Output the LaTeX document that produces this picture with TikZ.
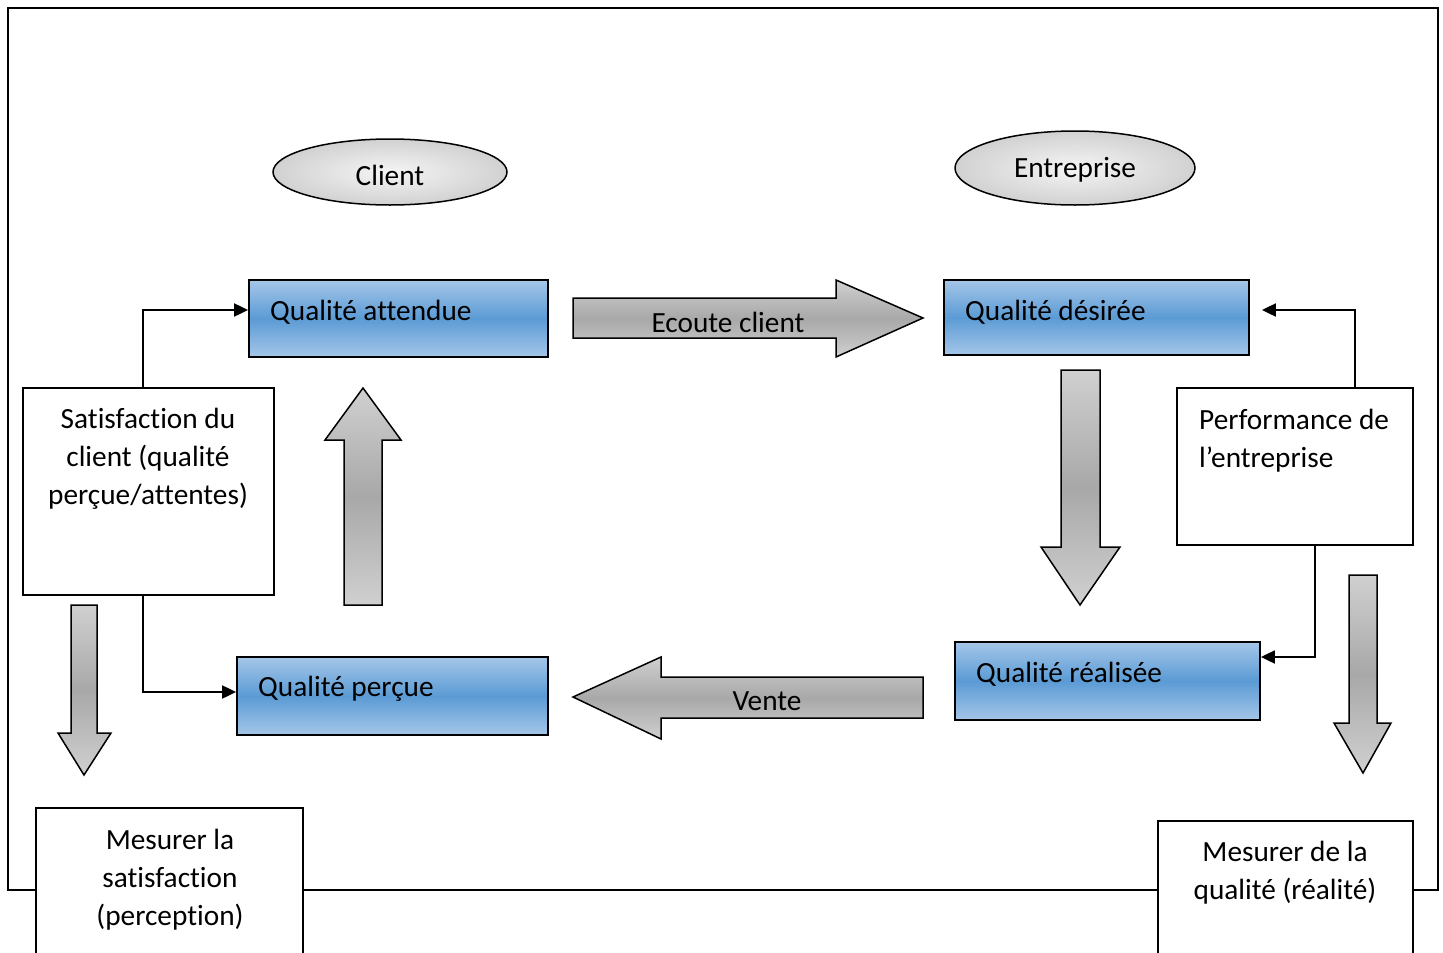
\documentclass[tikz,border=0pt]{standalone}
\usepackage{fontspec}
\setmainfont{Carlito}[Ligatures=CommonOff]
\usetikzlibrary{arrows.meta,shapes.geometric,calc}
\definecolor{bluelt}{HTML}{A5C6E8}
\definecolor{bluemid}{HTML}{5B9BD5}
\definecolor{greylt}{HTML}{D0D0D0}
\definecolor{greymid}{HTML}{A8A8A8}
\tikzset{
  qbox/.style={rectangle, draw=black, line width=1.8pt, inner sep=0pt,
    top color=bluelt, bottom color=bluelt, middle color=bluemid},
  wbox/.style={rectangle, draw=black, fill=white, line width=2pt, inner sep=0pt},
  oval/.style={ellipse, draw=black, line width=1.5pt, inner sep=0pt,
    inner color=white!96!black, outer color=white!82!black},
  bigarrow/.style={draw=black, line width=1.5pt, line join=miter,
    top color=greylt, bottom color=greylt, middle color=greymid},
  conn/.style={line width=2pt, -{Triangle[length=14pt,width=13pt]}},
  txt/.style={font=\fontsize{29.3}{38}\selectfont, inner sep=0pt},
}
\begin{document}
\begin{tikzpicture}[x=1pt,y=-1pt]
  \clip (0,0) rectangle (1443,953);
  \fill[white] (0,0) rectangle (1443,953);

  % outer frame
  \draw[line width=2pt] (8,8) rectangle (1438,890);

  % client / company ovals
  \node[oval, txt, text height=26pt, text depth=0pt,
        minimum width=234pt, minimum height=66pt] (client) at (390,172) {Client};
  \node[oval, txt, text height=24pt, text depth=6pt,
        minimum width=240pt, minimum height=74pt] (entreprise) at (1075,168) {Entreprise};

  % quality boxes
  \node[qbox, minimum width=299pt, minimum height=77pt] (qatt) at (398.5,318.5) {};
  \node[txt, anchor=base west] (qattT) at (270,320) {Qualité attendue};
  \node[qbox, minimum width=305pt, minimum height=75pt] (qdes) at (1096.5,317.5) {};
  \node[txt, anchor=base west] (qdesT) at (965,320) {Qualité désirée};
  \node[qbox, minimum width=305pt, minimum height=78pt] (qrea) at (1107.5,681) {};
  \node[txt, anchor=base west] (qreaT) at (976,682) {Qualité réalisée};
  \node[qbox, minimum width=311pt, minimum height=78pt] (qper) at (392.5,696) {};
  \node[txt, anchor=base west] (qperT) at (258,696) {Qualité perçue};

  % side boxes (text anchored on the baseline of its last line)
  \node[wbox, minimum width=251pt, minimum height=207pt] (sat) at (148.5,491.5) {};
  \node[txt, align=center, anchor=base] (satT) at (148,504)
    {Satisfaction du\\client (qualité\\perçue/attentes)};
  \node[wbox, minimum width=236pt, minimum height=157pt] (perf) at (1295,466.5) {};
  \node[txt, align=left, anchor=base west] (perfT) at (1199,467)
    {Performance de\\l’entreprise};

  % large grey arrows
  \path[bigarrow] (573,298) -- (836,298) -- (836,280) -- (923,318) -- (836,357)
    -- (836,338) -- (573,338) -- cycle;
  \node[txt, anchor=base] (ecoute) at (728,332) {Ecoute client};
  \path[bigarrow] (573,697) -- (661,657) -- (661,677) -- (923,677) -- (923,718)
    -- (661,718) -- (661,739) -- cycle;
  \node[txt, anchor=base] (vente) at (767,710) {Vente};
  \path[bigarrow] (363,388) -- (401,440) -- (382,440) -- (382,605) -- (344,605)
    -- (344,440) -- (325,440) -- cycle;
  \path[bigarrow] (1061,370) -- (1100,370) -- (1100,547) -- (1120,547) -- (1080,605)
    -- (1041,547) -- (1061,547) -- cycle;
  \path[bigarrow] (1349,575) -- (1377,575) -- (1377,723) -- (1391,723) -- (1363,773)
    -- (1334,723) -- (1349,723) -- cycle;
  \path[bigarrow] (71,605) -- (97,605) -- (97,733) -- (111,733) -- (84,775)
    -- (58,733) -- (71,733) -- cycle;

  % measurement boxes, cut by the bottom edge
  \node[wbox, minimum width=267pt, minimum height=170pt] (mesSat) at (169.5,893) {};
  \node[txt, align=center, anchor=base] (mesSatT) at (170,925)
    {Mesurer la\\satisfaction\\(perception)};
  \node[wbox, minimum width=255pt, minimum height=160pt] (mesQual) at (1285.5,901) {};
  \node[txt, align=center, anchor=base] (mesQualT) at (1285,899)
    {Mesurer de la\\qualité (réalité)};

  % feedback connectors
  \draw[conn] ($(sat.north)+(-5.5,0)$) |- ($(qatt.west)+(0,-8.5)$);
  \draw[conn] ($(sat.south)+(-5.5,0)$) |- ($(qper.west)+(0,-4)$);
  \draw[conn] ($(perf.north)+(60,0)$) |- ($(qdes.east)+(12,-7.5)$);
  \draw[conn] ($(perf.south)+(20,0)$) |- ($(qrea.east)+(0,-24)$);
\end{tikzpicture}
\end{document}
